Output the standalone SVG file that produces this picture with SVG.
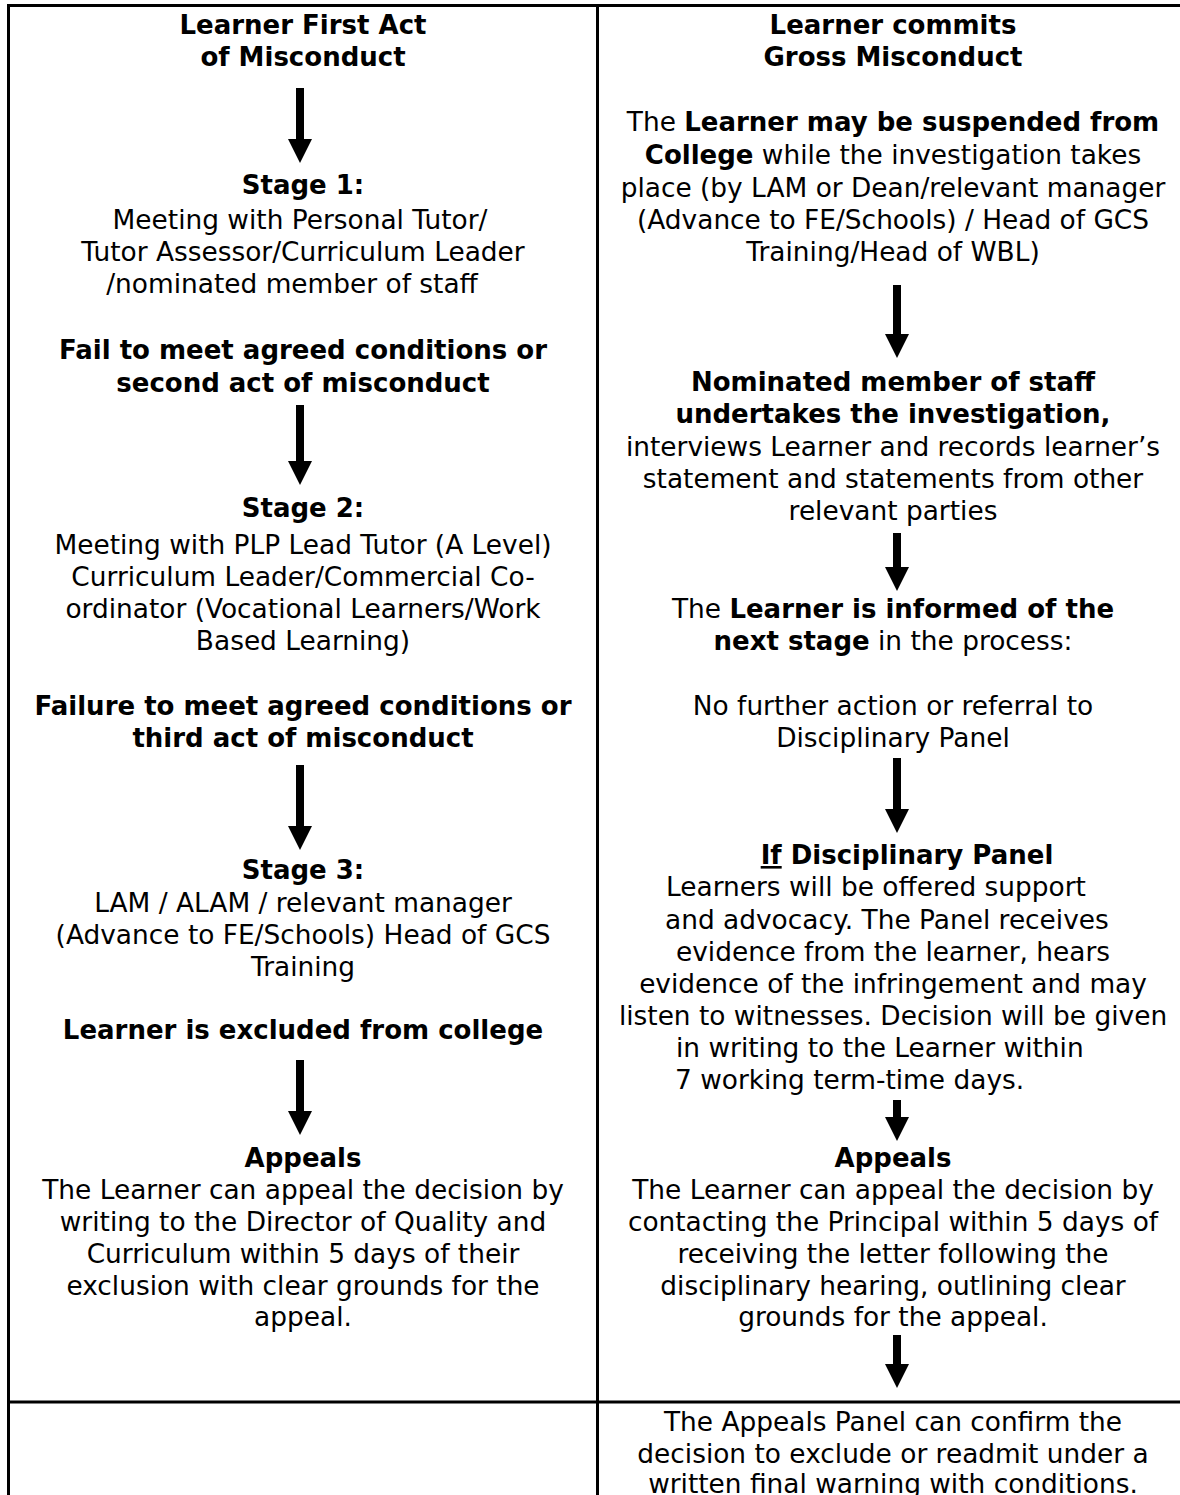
<svg xmlns="http://www.w3.org/2000/svg" width="1180" height="1495" viewBox="0 0 1180 1495">
<style>
.t{font-family:"DejaVu Sans",Verdana,sans-serif;font-size:26.4px;fill:#000;text-anchor:middle}
.s{text-anchor:start}
.b{font-weight:bold;font-size:26px}
.line{fill:none;stroke:#000;stroke-width:3}
.arr{fill:#000}
</style>
<rect width="1180" height="1495" fill="#fff"/>
<g id="table">
<rect class="line" x="8.5" y="5.5" width="1180" height="1500"/>
<line class="line" x1="597.5" y1="5.5" x2="597.5" y2="1500"/>
<line class="line" x1="8.5" y1="1402" x2="1190" y2="1402"/>
</g>
<g id="connectors">
<path class="arr" d="M296 88H304V139H312L300 163L288 139H296Z"/>
<path class="arr" d="M296 405H304V461H312L300 485L288 461H296Z"/>
<path class="arr" d="M296 765H304V826H312L300 850L288 826H296Z"/>
<path class="arr" d="M296 1060H304V1111H312L300 1135L288 1111H296Z"/>
<path class="arr" d="M893 285H901V334H909L897 358L885 334H893Z"/>
<path class="arr" d="M893 533H901V567H909L897 591L885 567H893Z"/>
<path class="arr" d="M893 758H901V809H909L897 833L885 809H893Z"/>
<path class="arr" d="M893 1100H901V1117H909L897 1141L885 1117H893Z"/>
<path class="arr" d="M893 1335H901V1364H909L897 1388L885 1364H893Z"/>
</g>
<g id="n-first">
<text class="t b" x="303" y="34">Learner First Act</text>
<text class="t b" x="303" y="66">of Misconduct</text>
</g>
<g id="n-stage1">
<text class="t b" x="303" y="194">Stage 1:</text>
<text class="t" x="300" y="229">Meeting with Personal Tutor/</text>
<text class="t" x="303" y="261">Tutor Assessor/Curriculum Leader</text>
<text class="t" x="292" y="293">/nominated member of staff</text>
</g>
<g id="n-fail1">
<text class="t b" x="303" y="359">Fail to meet agreed conditions or</text>
<text class="t b" x="303" y="392">second act of misconduct</text>
</g>
<g id="n-stage2">
<text class="t b" x="303" y="517">Stage 2:</text>
<text class="t" x="303" y="554">Meeting with PLP Lead Tutor (A Level)</text>
<text class="t" x="303" y="586">Curriculum Leader/Commercial Co-</text>
<text class="t" x="303" y="618">ordinator (Vocational Learners/Work</text>
<text class="t" x="303" y="650">Based Learning)</text>
</g>
<g id="n-fail2">
<text class="t b" x="303" y="715">Failure to meet agreed conditions or</text>
<text class="t b" x="303" y="747">third act of misconduct</text>
</g>
<g id="n-stage3">
<text class="t b" x="303" y="879">Stage 3:</text>
<text class="t" x="303" y="912">LAM / ALAM / relevant manager</text>
<text class="t" x="303" y="944">(Advance to FE/Schools) Head of GCS</text>
<text class="t" x="303" y="976">Training</text>
</g>
<g id="n-excluded">
<text class="t b" x="303" y="1039">Learner is excluded from college</text>
</g>
<g id="n-appeals-left">
<text class="t b" x="303" y="1167">Appeals</text>
<text class="t" x="303" y="1199">The Learner can appeal the decision by</text>
<text class="t" x="303" y="1231">writing to the Director of Quality and</text>
<text class="t" x="303" y="1263">Curriculum within 5 days of their</text>
<text class="t" x="303" y="1295">exclusion with clear grounds for the</text>
<text class="t" x="303" y="1326">appeal.</text>
</g>
<g id="n-gross">
<text class="t b" x="893" y="34">Learner commits</text>
<text class="t b" x="893" y="66">Gross Misconduct</text>
</g>
<g id="n-suspend">
<text class="t" x="893" y="131">The <tspan class="b">Learner may be suspended from</tspan></text>
<text class="t" x="893" y="164"><tspan class="b">College</tspan> while the investigation takes</text>
<text class="t" x="893" y="197">place (by LAM or Dean/relevant manager</text>
<text class="t" x="893" y="229">(Advance to FE/Schools) / Head of GCS</text>
<text class="t" x="893" y="261">Training/Head of WBL)</text>
</g>
<g id="n-investigation">
<text class="t b" x="893" y="391">Nominated member of staff</text>
<text class="t b" x="893" y="423">undertakes the investigation,</text>
<text class="t" x="893" y="456">interviews Learner and records learner’s</text>
<text class="t" x="893" y="488">statement and statements from other</text>
<text class="t" x="893" y="520">relevant parties</text>
</g>
<g id="n-informed">
<text class="t" x="893" y="618">The <tspan class="b">Learner is informed of the</tspan></text>
<text class="t" x="893" y="650"><tspan class="b">next stage</tspan> in the process:</text>
<text class="t" x="893" y="715">No further action or referral to</text>
<text class="t" x="893" y="747">Disciplinary Panel</text>
</g>
<g id="n-panel">
<text class="t b" x="907" y="864"><tspan text-decoration="underline">If</tspan> Disciplinary Panel</text>
<text class="t s" x="666" y="896">Learners will be offered support</text>
<text class="t s" x="665" y="929">and advocacy. The Panel receives</text>
<text class="t" x="893" y="961">evidence from the learner, hears</text>
<text class="t" x="893" y="993">evidence of the infringement and may</text>
<text class="t" x="893" y="1025">listen to witnesses. Decision will be given</text>
<text class="t s" x="676" y="1057">in writing to the Learner within</text>
<text class="t s" x="675" y="1089">7 working term-time days.</text>
</g>
<g id="n-appeals-right">
<text class="t b" x="893" y="1167">Appeals</text>
<text class="t" x="893" y="1199">The Learner can appeal the decision by</text>
<text class="t" x="893" y="1231">contacting the Principal within 5 days of</text>
<text class="t" x="893" y="1263">receiving the letter following the</text>
<text class="t" x="893" y="1295">disciplinary hearing, outlining clear</text>
<text class="t" x="893" y="1326">grounds for the appeal.</text>
</g>
<g id="n-appeals-panel">
<text class="t" x="893" y="1431">The Appeals Panel can confirm the</text>
<text class="t" x="893" y="1463">decision to exclude or readmit under a</text>
<text class="t" x="893" y="1493">written final warning with conditions.</text>
</g>
</svg>
